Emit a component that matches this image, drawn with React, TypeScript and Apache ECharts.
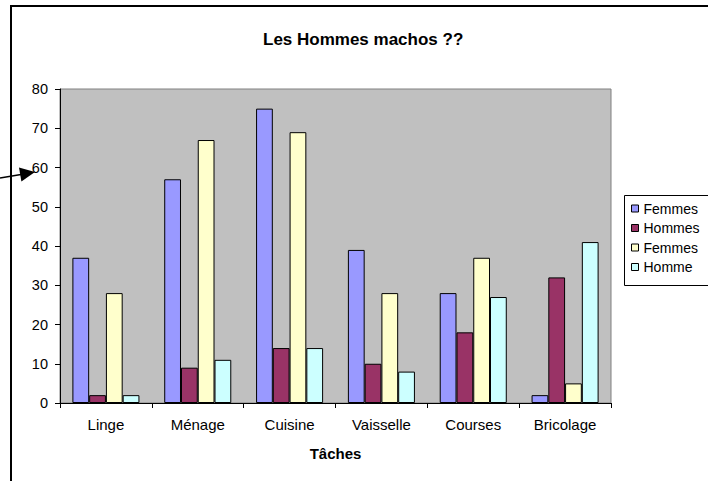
import React, { useEffect, useRef } from "react";
import * as echarts from "echarts";

const categories = ["Linge", "Ménage", "Cuisine", "Vaisselle", "Courses", "Bricolage"];
const seriesKeys = ["Femmes", "Hommes", "Femmes 2", "Homme"];
const seriesLabels = ["Femmes", "Hommes", "Femmes", "Homme"];
const seriesColors = ["#9999FF", "#993366", "#FFFFCC", "#CCFFFF"];
const femmes1 = [37, 57, 75, 39, 28, 2];
const hommes1 = [2, 9, 14, 10, 18, 32];
const femmes2 = [28, 67, 69, 28, 37, 5];
const homme2 = [2, 11, 14, 8, 27, 41];
const seriesValues = [femmes1, hommes1, femmes2, homme2];
const titleText = "Les Hommes machos ??";
const xAxisName = "Tâches";

const FONT = "'Liberation Sans', Arial, sans-serif";

export default function App() {
  const ref = useRef<HTMLDivElement>(null);
  useEffect(() => {
    if (!ref.current) return;
    const chart = echarts.init(ref.current, undefined, { renderer: "svg" });
    chart.setOption({
      animation: false,
      backgroundColor: "#ffffff",
      textStyle: { fontFamily: FONT, color: "#000" },
      title: {
        text: titleText,
        left: 263,
        top: 31,
        padding: 0,
        textStyle: { fontFamily: FONT, fontSize: 17, fontWeight: "bold", color: "#000" },
      },
      legend: {
        orient: "vertical",
        left: 624,
        top: 195,
        z: 10,
        padding: [6, 10, 9, 7],
        itemWidth: 7,
        itemHeight: 7,
        itemGap: 4.5,
        icon: "rect",
        data: seriesKeys,
        formatter: (n: string) => seriesLabels[seriesKeys.indexOf(n)],
        textStyle: { fontFamily: FONT, fontSize: 14, lineHeight: 15, color: "#000" },
        itemStyle: { borderColor: "#000", borderWidth: 1 },
      },
      grid: {
        left: 60,
        top: 89,
        width: 551,
        height: 314,
        show: true,
        backgroundColor: "#C0C0C0",
        borderColor: "#808080",
        borderWidth: 1,
      },
      xAxis: {
        type: "category",
        data: categories,
        axisLine: { show: true, lineStyle: { color: "#000", width: 1 } },
        axisTick: { show: true, length: 5, lineStyle: { color: "#000" } },
        axisLabel: { fontFamily: FONT, fontSize: 15, color: "#000", margin: 14 },
        name: xAxisName,
        nameLocation: "middle",
        nameGap: 43,
        nameTextStyle: { fontFamily: FONT, fontSize: 15, fontWeight: "bold", color: "#000" },
      },
      yAxis: {
        type: "value",
        min: 0,
        max: 80,
        interval: 10,
        axisLine: { show: true, lineStyle: { color: "#000", width: 1 } },
        axisTick: { show: true, length: 5, lineStyle: { color: "#000" } },
        axisLabel: { fontFamily: FONT, fontSize: 14.5, color: "#000", margin: 12 },
        splitLine: { show: false },
      },
      series: seriesKeys.map((k, i) => ({
        name: k,
        type: "bar",
        data: seriesValues[i],
        barGap: "0%",
        barCategoryGap: "27%",
        itemStyle: { color: seriesColors[i], borderColor: "#000", borderWidth: 1 },
      })),
      graphic: [
        {
          type: "rect",
          shape: { x: 11, y: 6, width: 900, height: 700 },
          style: { fill: "none", stroke: "#000", lineWidth: 2 },
          silent: true,
          z: 0,
        },
        {
          type: "rect",
          shape: { x: 624.5, y: 195.5, width: 200, height: 90 },
          style: { fill: "#ffffff", stroke: "#000", lineWidth: 1 },
          silent: true,
          z: 1,
        },
        {
          type: "line",
          shape: { x1: 0, y1: 178, x2: 21, y2: 174.5 },
          style: { stroke: "#000", lineWidth: 1.5 },
        },
        {
          type: "polygon",
          shape: { points: [[19, 167.6], [21.4, 181.4], [35, 172]] },
          style: { fill: "#000" },
        },
      ],
    });
    return () => chart.dispose();
  }, []);
  return (
    <div
      ref={ref}
      style={{ position: "absolute", left: 0, top: 0, width: 708, height: 481 }}
    />
  );
}
